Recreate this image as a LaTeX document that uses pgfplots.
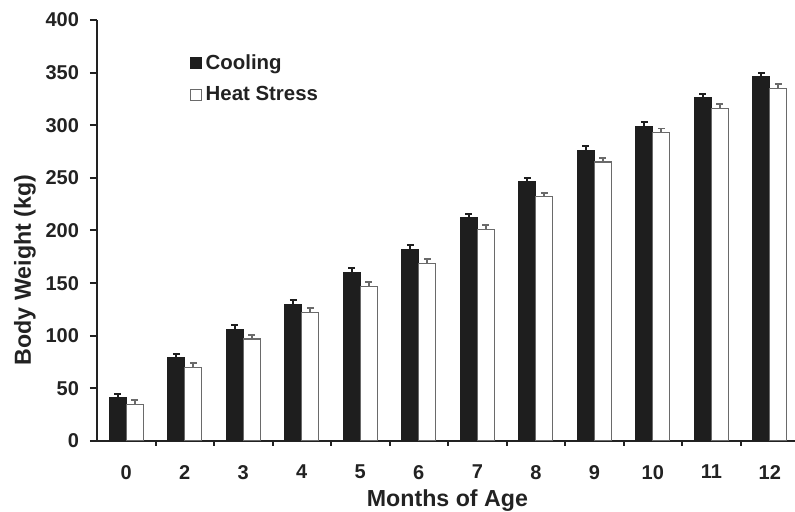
\documentclass[border=0pt]{standalone}
\usepackage{fontspec}
\setmainfont{Liberation Sans}
\usepackage{pgfplots}
\usepackage{pgfplotstable}
\pgfplotsset{compat=1.18}
\definecolor{barblack}{HTML}{1E1E1E}
\definecolor{bargray}{HTML}{6A6A6A}
\definecolor{txt}{HTML}{222222}
\pgfplotstableread{
x y e
0 41 4
1 79 4
2 106 4
3 130 4
4 160 4
5 182 4
6 212 4
7 246 4
8 276 4
9 299 4
10 326 4
11 346 4
}\cooling
\pgfplotstableread{
x y e
0 35 4
1 70 4
2 97 4
3 122 4
4 147 4
5 169 4
6 201 4
7 232 4
8 265 4
9 293 4
10 316 4
11 335 4
}\heat
\begin{document}
\begin{tikzpicture}
\begin{axis}[
  scale only axis, width=349pt, height=210.5pt,
  xmin=-0.5, xmax=11.43, ymin=0, ymax=400,
  axis x line*=bottom, axis y line*=left,
  x axis line style={-, line width=1pt, draw=txt},
  y axis line style={-, line width=1pt, draw=txt},
  ytick={0,50,...,400},
  xtick={0,...,11}, xticklabels={0,2,3,4,5,6,7,8,9,10,11,12},
  minor xtick={0.5,1.5,...,10.5},
  major x tick style={draw=none},
  minor x tick style={line width=1pt, draw=txt},
  major y tick style={line width=1pt, draw=txt},
  tick align=outside,
  major tick length=3.5pt, minor tick length=2.5pt,
  /pgf/number format/assume math mode=true,
  ticklabel style={font=\bfseries\fontsize{10}{11}\selectfont, text=txt},
  xticklabel style={yshift=-5pt},
  yticklabel style={xshift=-2pt},
  xlabel={Months of Age}, ylabel={Body Weight (kg)},
  label style={font=\bfseries\fontsize{11.6}{13}\selectfont, text=txt},
  xlabel style={at={(axis description cs:0.502,-0.142)}, anchor=center},
  ylabel style={at={(axis description cs:-0.1032,0.406)}, anchor=center, rotate=0},
  ybar=0pt, bar width=8.5pt,
  legend style={draw=none, fill=none, at={(0.132,0.929)}, anchor=north west,
    font=\bfseries\fontsize{10.2}{12}\selectfont, text=txt, row sep=3pt,
    inner sep=0pt},
  legend cell align=left,
]
\addplot[fill=barblack, draw=barblack, line width=0.6pt,
  legend image code/.code={\draw[fill=barblack, draw=barblack] (0pt,-2.75pt) rectangle (5.5pt,2.75pt);},
  error bars/.cd, y dir=plus, y explicit,
  error bar style={line width=0.9pt, draw=barblack},
  error mark options={rotate=90, mark size=1.7pt, line width=0.9pt, draw=barblack}]
  table[x=x, y=y, y error=e] {\cooling};
\addlegendentry{Cooling}
\addplot[fill=white, draw=bargray, line width=0.6pt,
  legend image code/.code={\draw[fill=white, draw=bargray, line width=0.6pt] (0pt,-2.75pt) rectangle (5.5pt,2.75pt);},
  error bars/.cd, y dir=plus, y explicit,
  error bar style={line width=0.9pt, draw=bargray},
  error mark options={rotate=90, mark size=1.7pt, line width=0.9pt, draw=bargray}]
  table[x=x, y=y, y error=e] {\heat};
\addlegendentry{Heat Stress}
\end{axis}
\pgfresetboundingbox
\path (-48.5pt,-35.5pt) rectangle (349pt,220.5pt);
\end{tikzpicture}
\end{document}
